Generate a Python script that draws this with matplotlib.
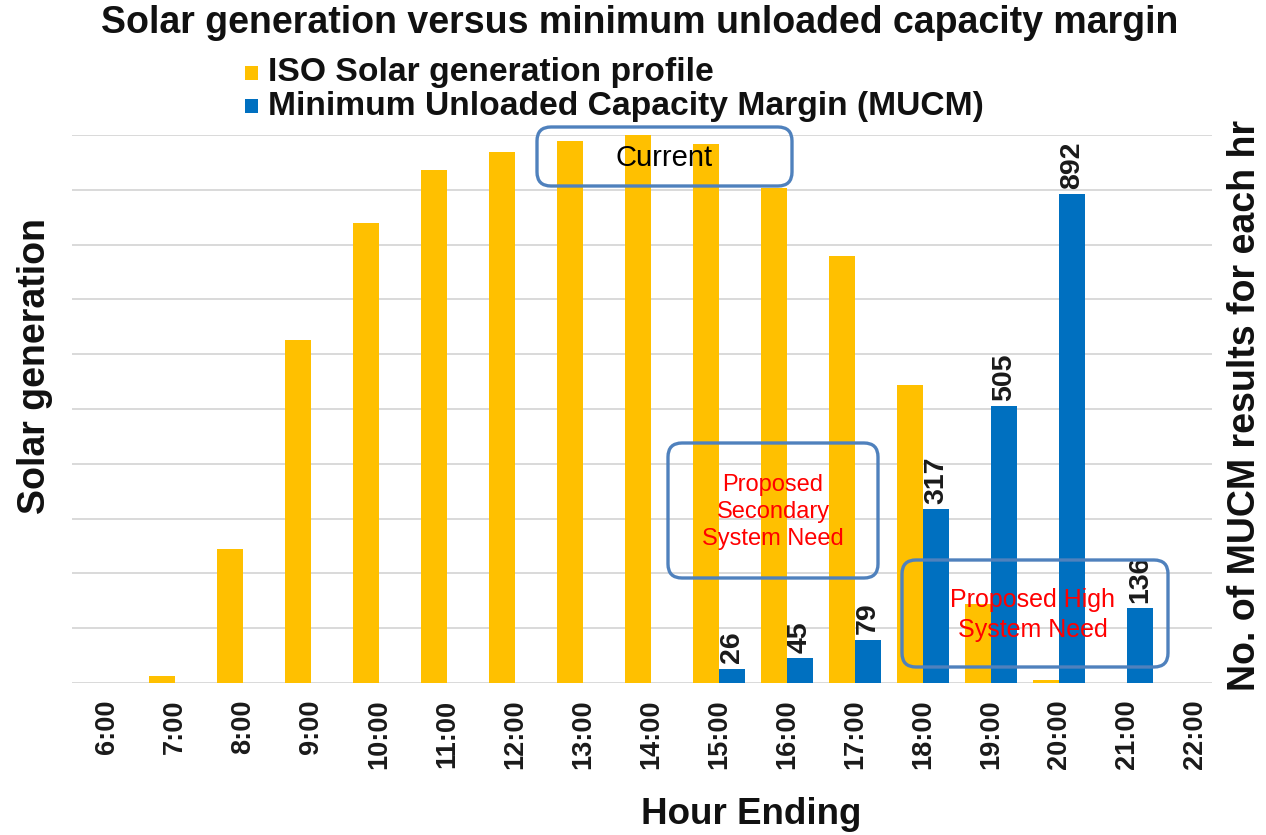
import numpy as np
import matplotlib
matplotlib.use("Agg")
import matplotlib.pyplot as plt
from matplotlib.patches import FancyBboxPatch, Rectangle
from matplotlib.transforms import IdentityTransform

plt.rcParams['font.family'] = ['Liberation Sans', 'DejaVu Sans']

hours = ["6:00", "7:00", "8:00", "9:00", "10:00", "11:00", "12:00", "13:00",
         "14:00", "15:00", "16:00", "17:00", "18:00", "19:00", "20:00", "21:00", "22:00"]
solar = [0, 0.13, 2.45, 6.26, 8.39, 9.36, 9.69, 9.89, 10.0, 9.84, 9.03, 7.79, 5.44, 1.44, 0.05, 0, 0]
mucm = [None, None, None, None, None, None, None, None, None, 26, 45, 79, 317, 505, 892, 136, None]

YELLOW = "#FFC000"
BLUE = "#0070C0"
BOXC = "#4F81BD"

W, H = 1266, 835
fig = plt.figure(figsize=(W / 100, H / 100), dpi=100)
ax = fig.add_axes([72 / W, 1 - 683 / H, (1212 - 72) / W, (683 - 135) / H])
ax2 = ax.twinx()

x = np.arange(len(hours))
bw = 0.38
ax.bar(x - bw / 2, solar, width=bw, color=YELLOW, zorder=3)
mvals = [v if v is not None else 0 for v in mucm]
ax2.bar(x + bw / 2, mvals, width=bw, color=BLUE, zorder=3)
for xi, v in zip(x, mucm):
    if v is not None:
        ax2.annotate(str(v), (xi + bw / 2, v), xytext=(0, 4), textcoords="offset points",
                     rotation=90, ha="center", va="bottom", fontsize=20.5, fontweight="bold",
                     color="#1a1a1a", zorder=4)

ax.set_ylim(0, 10)
ax2.set_ylim(0, 1000)
ax.set_xlim(-0.515, 16.25)
ax.set_yticks(np.arange(0, 11, 1))
ax.yaxis.grid(True, color="#D9D9D9", linewidth=1.4, zorder=0)
ax.set_axisbelow(True)
ax.tick_params(axis="y", length=0, labelleft=False)
ax2.tick_params(axis="y", length=0, labelright=False)
ax.set_xticks(x)
ax.set_xticklabels(hours, rotation=90, fontsize=19.5, fontweight="bold", color="#1a1a1a")
ax.tick_params(axis="x", length=0, pad=12)
for a in (ax, ax2):
    for s in a.spines.values():
        s.set_visible(False)

# title
fig.text(640 / W, 1 - 23 / H, "Solar generation versus minimum unloaded capacity margin",
         ha="center", va="center", fontsize=27, fontweight="bold", color="#111111")

# legend
leg_items = [("ISO Solar generation profile", YELLOW, 73),
             ("Minimum Unloaded Capacity Margin (MUCM)", BLUE, 106)]
for label, col, yy in leg_items:
    fig.add_artist(Rectangle((245, H - yy - 7), 13, 14, transform=IdentityTransform(),
                             facecolor=col, edgecolor="none"))
    fig.text(268 / W, 1 - yy / H, label, ha="left", va="center", fontsize=24.2,
             fontweight="bold", color="#111111")

# axis labels
fig.text(35 / W, 1 - 366 / H, "Solar generation", rotation=90, ha="center", va="center",
         fontsize=27, fontweight="bold", color="#111111")
fig.text(1245 / W, 1 - 405 / H, "No. of MUCM results for each hr", rotation=90,
         ha="center", va="center", fontsize=27, fontweight="bold", color="#111111")
fig.text(751 / W, 1 - 815 / H, "Hour Ending", ha="center", va="center",
         fontsize=26.5, fontweight="bold", color="#111111")

# annotation boxes (pixel coordinates of image)
def box(x0, y0, x1, y1):
    p = FancyBboxPatch((x0, H - y1), x1 - x0, y1 - y0,
                       boxstyle="round,pad=0,rounding_size=14",
                       transform=IdentityTransform(), facecolor="none",
                       edgecolor=BOXC, linewidth=2.4, zorder=10)
    fig.add_artist(p)

box(537, 127, 792, 186)
box(668, 443, 878, 578)
box(902, 560, 1168, 667)

fig.text(664 / W, 1 - 158 / H, "Current", ha="center", va="center", fontsize=21, color="black")
fig.text(773 / W, 1 - 512 / H, "Proposed\nSecondary\nSystem Need", ha="center", va="center",
         fontsize=17, color="#FF0000", linespacing=1.3)
fig.text(1033 / W, 1 - 615 / H, "Proposed High\nSystem Need", ha="center", va="center",
         fontsize=18, color="#FF0000", linespacing=1.35)

fig.savefig("out.png", dpi=100, facecolor="white")
